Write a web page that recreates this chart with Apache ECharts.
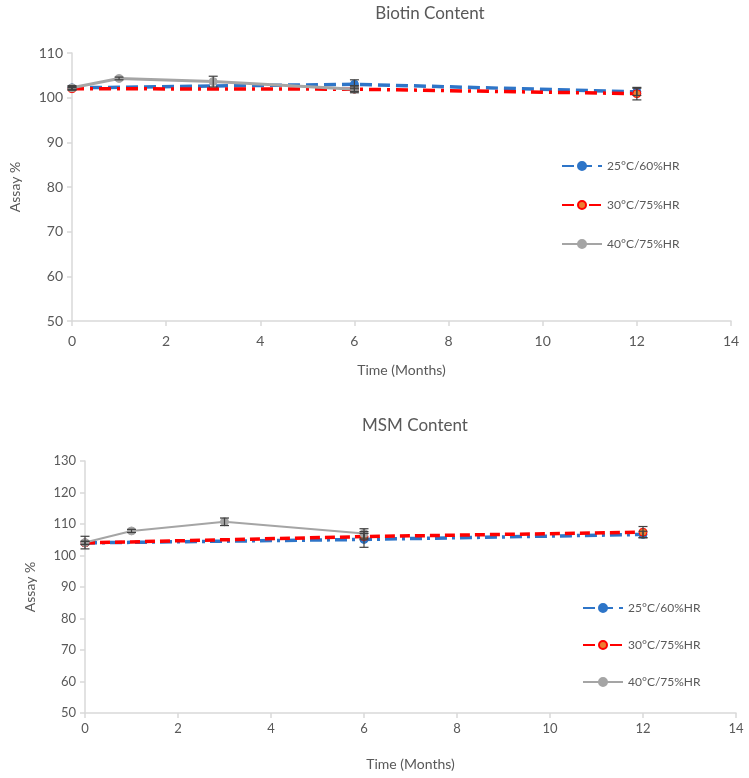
<!DOCTYPE html>
<html>
<head>
<meta charset="utf-8">
<script src="https://cdn.jsdelivr.net/npm/echarts@6/dist/echarts.min.js"></script>
<style>html,body{margin:0;padding:0;background:#fff}#c{width:749px;height:778px}</style>
</head>
<body>
<div id="c"></div>
<script>
// ---- data ----
const seriesNames = ['25°C/60%HR', '30°C/75%HR', '40°C/75%HR'];
const xTicks = [0, 2, 4, 6, 8, 10, 12, 14];
const monthsLong = [0, 6, 12];      // 25°C and 30°C
const monthsAcc = [0, 1, 3, 6];     // 40°C

const biotin25 = [102.2, 103.0, 101.3];
const biotin30 = [102.0, 101.9, 100.9];
const biotin40 = [102.2, 104.3, 103.6, 101.9];
const biotin25Err = [0.3, 1.0, 0.8];
const biotin30Err = [0.3, 0.5, 1.4];
const biotin40Err = [0.5, 0.3, 1.2, 0.8];

const msm25 = [104.0, 105.1, 106.7];
const msm30 = [104.0, 106.0, 107.4];
const msm40 = [104.1, 107.8, 110.7, 107.0];
const msm25Err = [0.5, 2.5, 1.0];
const msm30Err = [0.5, 1.0, 1.8];
const msm40Err = [2.0, 0.5, 1.2, 1.5];

// ---- helpers ----
const FONT = 'Lato';
const TXT = '#595959';
const AX = '#d9d9d9';
const BLUE = '#2E75C8', RED = '#FF0000', ORANGE = '#ED7D31', GRAY = '#A5A5A5';

function pairs(xs, ys) { return xs.map((x, i) => [x, ys[i]]); }
function errData(xs, ys, es) { return xs.map((x, i) => [x, ys[i] - es[i], ys[i] + es[i]]); }

function errSeries(gi, data) {
  return {
    type: 'custom', xAxisIndex: gi, yAxisIndex: gi, z: 5, silent: true,
    data: data,
    renderItem: function (params, api) {
      const x = api.value(0);
      const lo = api.coord([x, api.value(1)]);
      const hi = api.coord([x, api.value(2)]);
      const w = 4.5;
      const st = { stroke: '#404040', lineWidth: 1.2 };
      return {
        type: 'group', children: [
          { type: 'line', shape: { x1: lo[0], y1: lo[1], x2: hi[0], y2: hi[1] }, style: st },
          { type: 'line', shape: { x1: lo[0] - w, y1: lo[1], x2: lo[0] + w, y2: lo[1] }, style: st },
          { type: 'line', shape: { x1: hi[0] - w, y1: hi[1], x2: hi[0] + w, y2: hi[1] }, style: st }
        ]
      };
    }
  };
}

function xAxisCfg(gi, margin, nameGap, fs) {
  return {
    gridIndex: gi, type: 'value', min: 0, max: 14, interval: 2,
    name: 'Time (Months)', nameLocation: 'middle', nameGap: nameGap,
    nameTextStyle: { fontFamily: FONT, fontSize: 14, color: TXT },
    axisLine: { show: true, lineStyle: { color: AX, width: 1.5 } },
    axisTick: { show: true, length: 5, lineStyle: { color: AX, width: 1.5 } },
    axisLabel: { fontFamily: FONT, fontSize: fs, color: TXT, margin: margin,
      formatter: v => (xTicks.indexOf(v) >= 0 ? String(v) : '') },
    splitLine: { show: false }
  };
}
function yAxisCfg(gi, min, max, nameGap, fs) {
  return {
    gridIndex: gi, type: 'value', min: min, max: max, interval: 10,
    name: 'Assay %', nameLocation: 'middle', nameGap: nameGap, nameRotate: 90,
    nameTextStyle: { fontFamily: FONT, fontSize: 14, color: TXT },
    axisLine: { show: true, lineStyle: { color: AX, width: 1.5 } },
    axisTick: { show: true, length: 5, lineStyle: { color: AX, width: 1.5 } },
    axisLabel: { fontFamily: FONT, fontSize: fs, color: TXT, margin: 9 },
    splitLine: { show: false }
  };
}

function lineSeries(gi, name, data, color, fill, dash, width) {
  return {
    type: 'line', name: name, xAxisIndex: gi, yAxisIndex: gi, data: data,
    symbol: 'circle', symbolSize: 8, z: 3,
    lineStyle: { color: color, width: width, type: dash },
    itemStyle: { color: fill, borderColor: color, borderWidth: 1 },
    emphasis: { disabled: true }
  };
}

function legendCfg(left, top, gap) {
  return {
    orient: 'vertical', left: left, top: top, itemGap: gap, itemWidth: 40, itemHeight: 10,
    textStyle: { fontFamily: FONT, fontSize: 12, color: TXT },
    data: seriesNames.map(n => ({ name: n })),
    selectedMode: false
  };
}

const chart = echarts.init(document.getElementById('c'), null, { renderer: 'canvas' });
chart.setOption({
  animation: false,
  backgroundColor: '#fff',
  title: [
    { text: 'Biotin Content', left: 425, top: 0, textAlign: 'center',
      textStyle: { fontFamily: FONT, fontSize: 17, fontWeight: 'normal', color: TXT } },
    { text: 'MSM Content', left: 410, top: 412, textAlign: 'center',
      textStyle: { fontFamily: FONT, fontSize: 17, fontWeight: 'normal', color: TXT } }
  ],
  legend: [legendCfg(556, 155, 27), legendCfg(577, 597, 25)],
  grid: [
    { left: 70, right: 18, top: 53, height: 268 },
    { left: 85, right: 13, top: 461, height: 252 }
  ],
  xAxis: [xAxisCfg(0, 13, 42, 14), xAxisCfg(1, 9, 44, 13)],
  yAxis: [yAxisCfg(0, 50, 110, 50, 14), yAxisCfg(1, 50, 130, 48, 13)],
  series: [
    lineSeries(0, seriesNames[0], pairs(monthsLong, biotin25), BLUE, BLUE, [12, 6], 3.5),
    lineSeries(0, seriesNames[1], pairs(monthsLong, biotin30), RED, ORANGE, [12, 6, 3, 6], 3.5),
    lineSeries(0, seriesNames[2], pairs(monthsAcc, biotin40), GRAY, GRAY, 'solid', 3),
    errSeries(0, errData(monthsLong, biotin25, biotin25Err)),
    errSeries(0, errData(monthsLong, biotin30, biotin30Err)),
    errSeries(0, errData(monthsAcc, biotin40, biotin40Err)),
    lineSeries(1, seriesNames[0], pairs(monthsLong, msm25), BLUE, BLUE, [12, 5, 3, 5], 3.5),
    lineSeries(1, seriesNames[1], pairs(monthsLong, msm30), RED, ORANGE, [10, 5], 3.5),
    lineSeries(1, seriesNames[2], pairs(monthsAcc, msm40), GRAY, GRAY, 'solid', 2),
    errSeries(1, errData(monthsLong, msm25, msm25Err)),
    errSeries(1, errData(monthsLong, msm30, msm30Err)),
    errSeries(1, errData(monthsAcc, msm40, msm40Err))
  ]
});
</script>
</body>
</html>
